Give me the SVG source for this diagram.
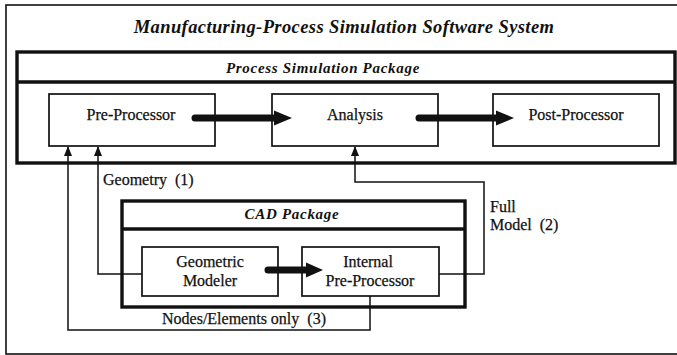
<svg xmlns="http://www.w3.org/2000/svg" width="677" height="355" viewBox="0 0 677 355">
  <defs>
    <style>
      .frame { fill: none; stroke: #111; stroke-width: 1.6; }
      .pkg { fill: none; stroke: #111; stroke-width: 3.4; }
      .box { fill: #fff; stroke: #111; stroke-width: 1.7; }
      .wire { fill: none; stroke: #111; stroke-width: 1.5; }
      .flow { stroke: #111; stroke-width: 7; stroke-linecap: round; fill: none; }
      .head { fill: #111; }
      .title { font-family: "Liberation Serif", "Times New Roman", serif; font-weight: bold; font-style: italic; font-size: 18.5px; letter-spacing: 0.4px; fill: #111; }
      .hdr { font-family: "Liberation Serif", "Times New Roman", serif; font-weight: bold; font-style: italic; font-size: 15px; letter-spacing: 0.7px; fill: #111; }
      .lbl { font-family: "Liberation Serif", "Times New Roman", serif; font-size: 16px; fill: #111; stroke: #111; stroke-width: 0.25; white-space: pre; }
    </style>
    <marker id="tip" markerUnits="userSpaceOnUse" markerWidth="10" markerHeight="10" viewBox="0 0 10 10" refX="9" refY="5" orient="auto">
      <path d="M0,1 L10,5 L0,9 Z" fill="#111"/>
    </marker>
  </defs>

  <rect width="677" height="355" fill="#fff"/>

  <!-- outer system frame (right side runs off the sheet) -->
  <g id="system">
    <rect class="frame" x="6" y="5" width="690" height="349"/>
    <text class="title" x="344" y="33" text-anchor="middle">Manufacturing-Process Simulation Software System</text>
  </g>

  <!-- simulation package -->
  <g id="process-simulation-package">
    <rect class="pkg" x="17" y="52" width="658" height="111"/>
    <line class="pkg" x1="17" y1="82" x2="675" y2="82"/>
    <text class="hdr" x="323" y="73" text-anchor="middle">Process Simulation Package</text>
  </g>

  <g id="pre-processor">
    <rect class="box" x="49" y="94" width="166" height="52"/>
    <text class="lbl" x="131" y="120" text-anchor="middle">Pre-Processor</text>
  </g>

  <g id="analysis">
    <rect class="box" x="272" y="94" width="166" height="52"/>
    <text class="lbl" x="355" y="120" text-anchor="middle">Analysis</text>
  </g>

  <g id="post-processor">
    <rect class="box" x="493" y="94" width="166" height="52"/>
    <text class="lbl" x="576" y="120" text-anchor="middle">Post-Processor</text>
  </g>

  <!-- CAD package -->
  <g id="cad-package">
    <rect class="pkg" x="122" y="201" width="343" height="106"/>
    <line class="pkg" x1="122" y1="229" x2="465" y2="229"/>
    <text class="hdr" x="292" y="219" text-anchor="middle">CAD Package</text>
  </g>

  <g id="geometric-modeler">
    <rect class="box" x="142" y="247" width="136" height="49"/>
    <text class="lbl" x="210" y="267" text-anchor="middle">Geometric</text>
    <text class="lbl" x="210" y="286" text-anchor="middle">Modeler</text>
  </g>

  <g id="internal-pre-processor">
    <rect class="box" x="302" y="247" width="137" height="49"/>
    <text class="lbl" x="368" y="267" text-anchor="middle">Internal</text>
    <text class="lbl" x="370" y="286" text-anchor="middle">Pre-Processor</text>
  </g>

  <g id="connectors">
    <!-- thick data-flow arrows -->
    <line class="flow" x1="195" y1="118" x2="278" y2="118"/>
    <path class="head" d="M274,110.5 L292,118 L274,125.5 Z"/>
    <line class="flow" x1="419" y1="118" x2="499" y2="118"/>
    <path class="head" d="M496,110.5 L514,118 L496,125.5 Z"/>
    <line class="flow" x1="268" y1="270" x2="309" y2="270"/>
    <path class="head" d="M306,262.5 L323,270 L306,277.5 Z"/>

    <!-- Geometry (1) -->
    <path class="wire" d="M142,274 H98 V147" marker-end="url(#tip)"/>
    <!-- Nodes/Elements only (3) -->
    <path class="wire" d="M370,296 V330 H68 V147" marker-end="url(#tip)"/>
    <!-- Full Model (2) -->
    <path class="wire" d="M439,274 H484 V182 H355 V147" marker-end="url(#tip)"/>

    <text class="lbl" x="103" y="185">Geometry  (1)</text>
    <text class="lbl" x="162" y="324">Nodes/Elements only  (3)</text>
    <text class="lbl" x="490" y="212">Full</text>
    <text class="lbl" x="490" y="230">Model  (2)</text>
  </g>
</svg>
